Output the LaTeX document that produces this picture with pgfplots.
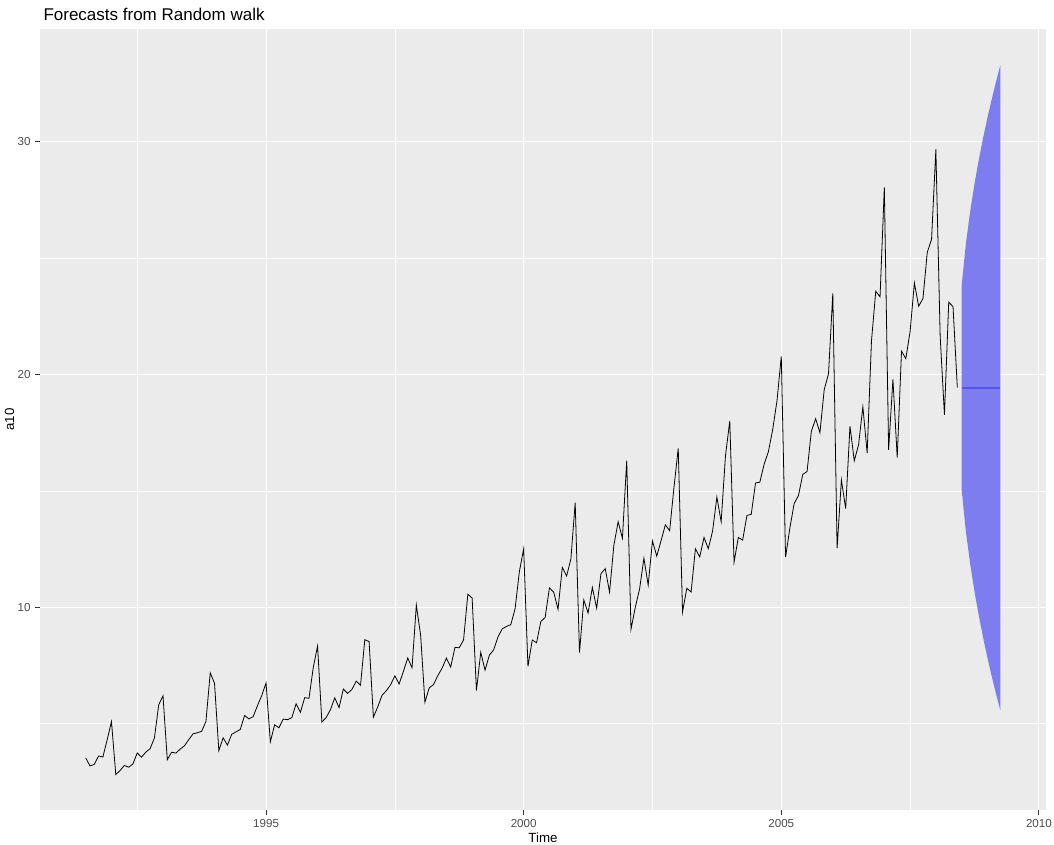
\documentclass[border=0pt]{standalone}
\usepackage{pgfplots}
\pgfplotsset{compat=1.18}
\usepackage{pgfplotstable}
\usepackage{fontspec}
\setmainfont{Liberation Sans}
\definecolor{ggbg}{HTML}{EBEBEB}
\definecolor{ticklab}{HTML}{4D4D4D}
\definecolor{tickcol}{HTML}{333333}
\definecolor{fanfill}{RGB}{125,125,240}
\definecolor{meanline}{RGB}{85,85,230}

\pgfplotstableread{
y
3.526591
3.180891
3.252221
3.611003
3.565869
4.306371
5.088335
2.814520
2.985811
3.204780
3.127578
3.270523
3.737851
3.558776
3.777202
3.924490
4.386531
5.810549
6.192068
3.450857
3.772307
3.734303
3.905399
4.049687
4.315566
4.562185
4.608662
4.667851
5.093841
7.179962
6.731473
3.841278
4.394076
4.075341
4.540645
4.645615
4.752607
5.350605
5.204455
5.301651
5.773742
6.204593
6.749484
4.216067
4.949349
4.823045
5.194754
5.170787
5.256742
5.855277
5.490729
6.115293
6.088473
7.416598
8.329452
5.069796
5.262557
5.597126
6.110296
5.689161
6.486849
6.300569
6.467476
6.828629
6.649078
8.606937
8.524471
5.277918
5.714303
6.214529
6.411929
6.667716
7.050831
6.704919
7.250988
7.819733
7.398101
10.096233
8.798513
5.918261
6.534493
6.675736
7.064201
7.383381
7.813496
7.431892
8.275117
8.260441
8.596156
10.558939
10.391416
6.421535
8.062619
7.297739
7.936916
8.165323
8.717420
9.070964
9.177113
9.251887
9.933136
11.532974
12.511462
7.457199
8.591191
8.474000
9.386803
9.560399
10.834295
10.643751
9.908534
11.710041
11.340151
12.079132
14.497581
8.049275
10.312891
9.753358
10.850382
9.961719
11.443601
11.659239
10.647060
12.652134
13.674466
12.965735
16.300269
9.053485
10.002449
10.788750
12.106705
10.954101
12.844566
12.196500
12.854748
13.542004
13.287640
15.134918
16.828350
9.800215
10.816994
10.654223
12.512323
12.161210
12.998046
12.517276
13.268658
14.733622
13.669382
16.503966
18.003768
11.938030
12.997900
12.882645
13.943447
13.989472
15.339097
15.370764
16.142005
16.685754
17.636728
18.869325
20.778723
12.154552
13.402392
14.459239
14.795102
15.705248
15.829550
17.554701
18.100864
17.496668
19.347265
20.031291
23.486694
12.536987
15.467018
14.233539
17.783058
16.291602
16.980282
18.612189
16.623343
21.430241
23.575517
23.334206
28.038383
16.763869
19.792754
16.427305
21.000742
20.681002
21.834890
23.930204
22.930357
23.263340
25.250030
25.806090
29.665356
21.654285
18.264945
23.107677
22.912510
19.431740
}\atenData

\pgfplotstableread{
t lo hi mean
2008.5000 15.05 23.81 19.4317
2008.5833 13.24 25.63 19.4317
2008.6667 11.85 27.02 19.4317
2008.7500 10.67 28.19 19.4317
2008.8333 9.64 29.23 19.4317
2008.9167 8.70 30.16 19.4317
2009.0000 7.84 31.02 19.4317
2009.0833 7.04 31.82 19.4317
2009.1667 6.29 32.57 19.4317
2009.2500 5.58 33.28 19.4317
}\fcData

\begin{document}
\begin{tikzpicture}
\path[use as bounding box, fill=white] (0,0) rectangle (1054pt,844pt);
\begin{axis}[
  at={(40pt,34pt)}, anchor=south west,
  scale only axis, width=1006pt, height=781pt,
  xmin=1990.6125, xmax=2010.1375,
  ymin=1.29, ymax=34.84,
  axis background/.style={fill=ggbg},
  axis line style={draw=none},
  xtick={1995,2000,2005,2010},
  minor xtick={1992.5,1997.5,2002.5,2007.5},
  ytick={10,20,30},
  minor ytick={5,15,25},
  grid=both,
  major grid style={white, line width=1.1pt},
  minor grid style={white, line width=0.55pt},
  tick pos=left,
  tick align=outside,
  major tick length=5pt,
  minor tick length=0pt,
  tick style={tickcol, line width=0.9pt},
  /pgf/number format/assume math mode=true,
  /pgf/number format/1000 sep={},
  tick label style={font=\fontsize{11.6}{13}\selectfont, text=ticklab},
  xticklabel style={yshift=-1pt},
  yticklabel style={xshift=-1pt},
  clip=true,
]
\addplot[fill=fanfill, draw=none] table[x=t, y=hi] {\fcData}
  -- (axis cs:2009.2500,5.58) -- (axis cs:2009.1667,6.29) -- (axis cs:2009.0833,7.04)
  -- (axis cs:2009.0000,7.84) -- (axis cs:2008.9167,8.70) -- (axis cs:2008.8333,9.64)
  -- (axis cs:2008.7500,10.67) -- (axis cs:2008.6667,11.85) -- (axis cs:2008.5833,13.24)
  -- (axis cs:2008.5000,15.05) -- cycle;
\addplot[meanline, line width=2.2pt] table[x=t, y=mean] {\fcData};
\addplot[black, line width=0.8pt] table[x expr=1991.5+\coordindex/12, y=y] {\atenData};
\end{axis}
\node[anchor=base west, font=\fontsize{17}{20}\selectfont, text=black] at (40pt,823.3pt) {Forecasts from Random walk};
\node[anchor=base, font=\fontsize{13.3}{16}\selectfont, text=black] at (543pt,2pt) {Time};
\node[anchor=base, rotate=90, font=\fontsize{13.3}{16}\selectfont, text=black] at (14pt,424.5pt) {a10};
\end{tikzpicture}
\end{document}
